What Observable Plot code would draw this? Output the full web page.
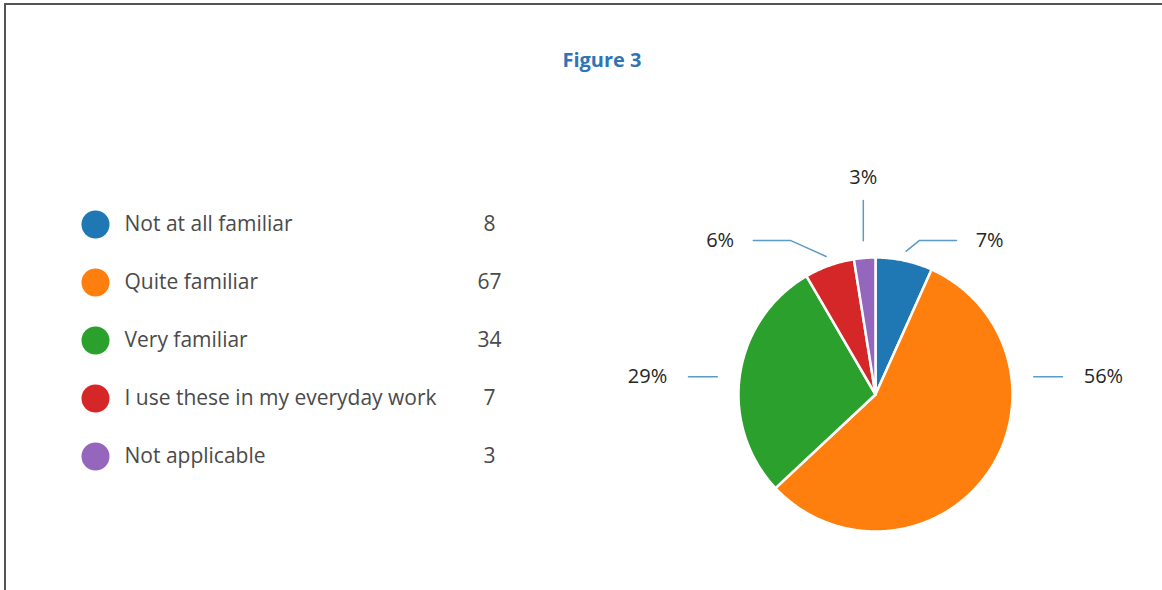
<!DOCTYPE html>
<html>
<head>
<meta charset="utf-8">
<script src="https://cdn.jsdelivr.net/npm/d3@7"></script>
<script src="https://cdn.jsdelivr.net/npm/@observablehq/plot@0.6"></script>
<style>
  html, body { margin: 0; padding: 0; background: #fff; }
  #wrap { position: relative; width: 1162px; height: 590px; overflow: hidden; background: #fff; }
  #bt { position: absolute; left: 4px; top: 3px; width: 1158px; height: 2px; background: #555; }
  #bl { position: absolute; left: 4px; top: 3px; width: 2px; height: 587px; background: #555; }
  #title { position: absolute; left: 0; width: 1204px; top: 46px; text-align: center;
           font-family: "Open Sans", sans-serif; font-weight: 700; font-size: 20px; color: #2e75b6; }
  #legend { position: absolute; left: 0; top: 0; }
  #pie { position: absolute; left: 580px; top: 0; }
</style>
</head>
<body>
<div id="wrap">
  <div id="bt"></div>
  <div id="bl"></div>
  <div id="title">Figure 3</div>
  <div id="legend"></div>
  <div id="pie"></div>
</div>
<script>
// ---- data ----
const categories = ["Not at all familiar", "Quite familiar", "Very familiar", "I use these in my everyday work", "Not applicable"];
const counts = [8, 67, 34, 7, 3];
const colors = ["#1f77b4", "#ff7f0e", "#2ca02c", "#d62728", "#9467bd"];

const rows = categories.map((c, i) => ({category: c, count: counts[i]}));
const total = d3.sum(counts);

// ---- legend ----
const legend = Plot.plot({
  width: 600, height: 590, margin: 0,
  style: {fontFamily: "'Open Sans', sans-serif", background: "transparent"},
  y: {type: "point", domain: categories, range: [222, 457], padding: 0, axis: null},
  color: {domain: categories, range: colors},
  marks: [
    Plot.dot(rows, {y: "category", fill: "category", r: 14, frameAnchor: "left", dx: 95}),
    Plot.text(rows, {y: "category", text: "category", frameAnchor: "left", dx: 124, textAnchor: "start", fontSize: 21, fill: "#4a4a4a"}),
    Plot.text(rows, {y: "category", text: d => String(d.count), frameAnchor: "left", dx: 489, textAnchor: "middle", fontSize: 21, fill: "#4a4a4a"})
  ]
});
document.getElementById("legend").appendChild(legend);

// ---- pie geometry (unit circle, angles clockwise from 12 o'clock) ----
const arcs = d3.pie().sort(null).value(d => d.count)(rows);
const polar = (a, r) => ({x: r * Math.sin(a), y: r * Math.cos(a)});

const slicePts = [];
for (const a of arcs) {
  const c = a.data.category;
  slicePts.push({category: c, x: 0, y: 0});
  const n = Math.max(2, Math.ceil((a.endAngle - a.startAngle) / 0.01));
  for (let k = 0; k <= n; k++) {
    const t = a.startAngle + (a.endAngle - a.startAngle) * k / n;
    slicePts.push({category: c, ...polar(t, 1)});
  }
  slicePts.push({category: c, x: 0, y: 0});
}

// ---- label layout ----
const leaderPts = [];
const labels = [];
const sideLabelY = 0.13;
for (const a of arcs) {
  const c = a.data.category;
  const share = a.data.count / total;
  const txt = Math.round(share * 100) + "%";
  const mid = (a.startAngle + a.endAngle) / 2;
  const side = Math.sin(mid) >= 0 ? 1 : -1;
  if (share >= 0.1) {
    // large slices: horizontal leader at the side
    leaderPts.push({category: c, x: side * 1.155, y: sideLabelY});
    leaderPts.push({category: c, x: side * 1.365, y: sideLabelY});
    labels.push({text: txt, x: side * 1.52, y: sideLabelY, anchor: side > 0 ? "start" : "end"});
  } else if (Math.abs(Math.sin(mid)) < 0.2) {
    const p1 = polar(mid, 1.125), p2 = polar(mid, 1.42), p3 = polar(mid, 1.585);
    leaderPts.push({category: c, ...p1});
    leaderPts.push({category: c, x: p1.x, y: p2.y});
    labels.push({text: txt, x: p1.x, y: p3.y, anchor: "middle"});
  } else {
    const p1 = polar(mid, 1.07);
    const yl = 1.125;
    const r2 = yl / Math.cos(mid);
    const p2 = polar(mid, r2);
    const off = side > 0 ? 0.08 : 0.22;   // left labels are pushed further out to clear the top label
    const elx = p2.x + side * off;
    const ex = elx + side * 0.27;
    leaderPts.push({category: c, ...p1});
    leaderPts.push({category: c, x: elx, y: yl});
    leaderPts.push({category: c, x: ex, y: yl});
    labels.push({text: txt, x: ex + side * 0.14, y: yl, anchor: side > 0 ? "start" : "end"});
  }
}

const cx = 295, cy = 394, R = 137;
const textOpts = {x: "x", y: "y", text: "text", fontSize: 20, fill: "#262626"};
const pie = Plot.plot({
  width: 582, height: 590, margin: 0,
  style: {fontFamily: "'Open Sans', sans-serif", background: "transparent"},
  x: {domain: [-1, 1], range: [cx - R, cx + R], axis: null},
  y: {domain: [-1, 1], range: [cy + R, cy - R], axis: null},
  color: {domain: categories, range: colors},
  marks: [
    Plot.line(slicePts, {x: "x", y: "y", z: "category", fill: "category", stroke: "white", strokeWidth: 2.5, strokeLinejoin: "round"}),
    Plot.line(leaderPts, {x: "x", y: "y", z: "category", stroke: "#5b9bc8", strokeWidth: 1.5}),
    Plot.text(labels.filter(d => d.anchor === "start"), {...textOpts, textAnchor: "start"}),
    Plot.text(labels.filter(d => d.anchor === "end"), {...textOpts, textAnchor: "end"}),
    Plot.text(labels.filter(d => d.anchor === "middle"), {...textOpts, textAnchor: "middle"})
  ]
});
document.getElementById("pie").appendChild(pie);
</script>
</body>
</html>
